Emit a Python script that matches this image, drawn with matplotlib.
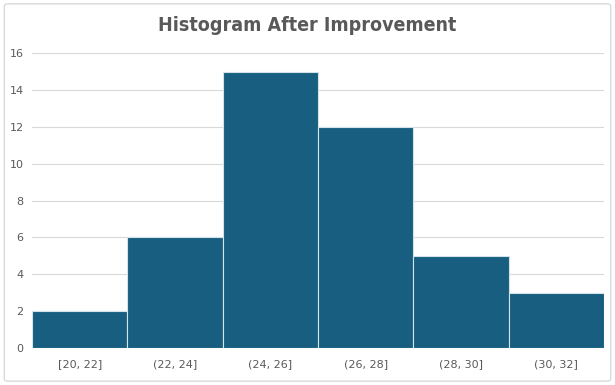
import matplotlib.pyplot as plt
from matplotlib.patches import FancyBboxPatch

# Data
bins = ['[20, 22]', '(22, 24]', '(24, 26]', '(26, 28]', '(28, 30]', '(30, 32]']
counts = [2, 6, 15, 12, 5, 3]
y_ticks = [0, 2, 4, 6, 8, 10, 12, 14, 16]

bar_color = '#175e80'
text_color = '#595959'

fig = plt.figure(figsize=(6.15, 3.85), dpi=100)
ax = fig.add_axes([0.052, 0.096, 0.930, 0.766])

# outer chart border
border = FancyBboxPatch((0.007, 0.01), 0.986, 0.98, boxstyle='round,pad=0,rounding_size=0.006',
                        transform=fig.transFigure, facecolor='none', edgecolor='#d9d9d9',
                        linewidth=1.0)
fig.patches.append(border)

x = range(len(bins))
ax.bar(x, counts, width=1.0, color=bar_color, edgecolor='#d4e2ea', linewidth=0.8, zorder=3)

ax.set_xlim(-0.5, len(bins) - 0.5)
ax.set_ylim(0, 16)
ax.set_yticks(y_ticks)
ax.set_xticks(list(x))
ax.set_xticklabels(bins)
ax.grid(axis='y', color='#d9d9d9', linewidth=0.8, zorder=0)
for s in ax.spines.values():
    s.set_visible(False)
ax.tick_params(length=0, colors=text_color, labelsize=8)
ax.tick_params(axis='x', pad=8)
ax.tick_params(axis='y', pad=6)

fig.text(0.5, 0.935, 'Histogram After Improvement', ha='center', va='center',
         fontsize=14, fontweight='bold', fontstretch='condensed', color=text_color,
         family='DejaVu Sans')

fig.savefig('out.png', dpi=100)
